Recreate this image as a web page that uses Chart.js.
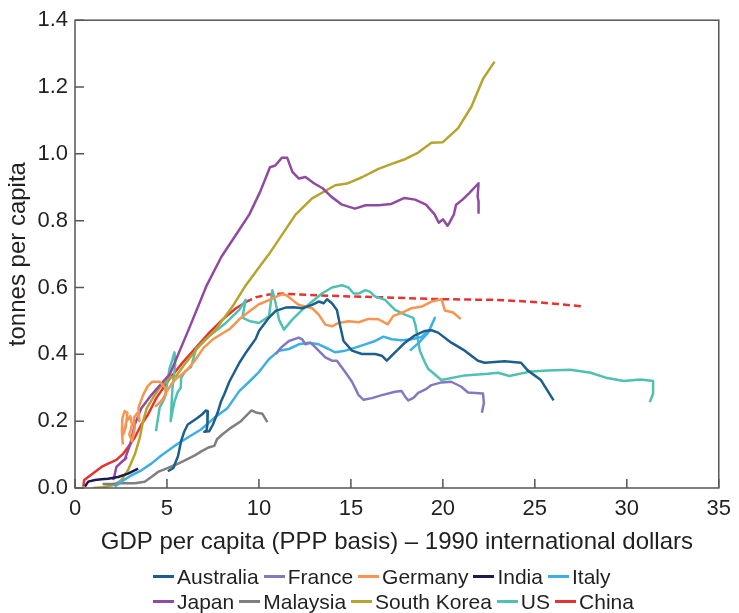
<!DOCTYPE html>
<html>
<head>
<meta charset="utf-8">
<script src="https://cdn.jsdelivr.net/npm/chart.js@4.4.0/dist/chart.umd.min.js"></script>
<style>
  html, body { margin: 0; padding: 0; background: #fff; }
  #wrap { position: relative; width: 739px; height: 613px; }
  #legend {
    position: absolute; left: 153px; top: 564px;
    font-family: 'Liberation Sans', Arial, sans-serif; font-size: 21px; color: #231f20;
  }
  .row { display: flex; align-items: center; height: 25px; white-space: nowrap; }
  .item { display: flex; align-items: center; margin-right: 5px; }
  .mark { display: inline-block; width: 21px; height: 3px; margin-right: 3px; }
</style>
</head>
<body>
<div id="wrap">
  <canvas id="chart" width="739" height="613"></canvas>
  <div id="legend"></div>
</div>
<script>
// Tick values
const xTicks = [0, 5, 10, 15, 20, 25, 30, 35];
const yTicks = [0, 0.2, 0.4, 0.6, 0.8, 1.0, 1.2, 1.4];

// Series: [GDP per capita (thousand 1990 $), tonnes per capita]
const australia = [[5.05,0.05],[5.35,0.06],[5.45,0.075],[5.6,0.095],[5.77,0.141],[5.95,0.17],[6.13,0.19],[6.4,0.2],[6.67,0.21],[6.9,0.22],[7.12,0.232],[7.22,0.23],[7.2,0.19],[7.15,0.172],[7.03,0.168],[7.3,0.17],[7.5,0.19],[7.75,0.225],[7.94,0.259],[8.11,0.28],[8.39,0.318],[8.93,0.374],[9.29,0.405],[9.83,0.447],[10.0,0.47],[10.55,0.51],[10.91,0.53],[11.45,0.54],[11.9,0.541],[12.35,0.538],[12.89,0.548],[13.25,0.558],[13.52,0.553],[13.7,0.565],[13.97,0.553],[14.24,0.533],[14.42,0.484],[14.6,0.44],[15.06,0.411],[15.6,0.401],[16.32,0.401],[16.68,0.396],[16.95,0.381],[17.4,0.406],[17.94,0.435],[18.48,0.457],[19.02,0.47],[19.38,0.472],[19.74,0.465],[20.46,0.435],[21.19,0.411],[21.91,0.381],[22.27,0.375],[23.36,0.379],[24.25,0.375],[24.61,0.352],[25.33,0.323],[26.02,0.262]];
const france = [[10.91,0.401],[11.2,0.42],[11.63,0.44],[12.17,0.45],[12.35,0.445],[12.53,0.43],[12.8,0.435],[13.07,0.421],[13.61,0.391],[13.97,0.381],[14.24,0.381],[14.69,0.347],[15.06,0.318],[15.42,0.278],[15.69,0.264],[16.14,0.269],[16.68,0.278],[17.4,0.288],[17.76,0.29],[17.94,0.274],[18.12,0.262],[18.4,0.27],[18.66,0.285],[19.11,0.297],[19.38,0.308],[19.92,0.316],[20.46,0.318],[21.0,0.303],[21.37,0.286],[22.18,0.283],[22.23,0.254],[22.12,0.225]];
const germany = [[2.6,0.13],[2.55,0.17],[2.58,0.21],[2.7,0.23],[2.85,0.225],[2.75,0.18],[2.62,0.16],[2.8,0.2],[3.0,0.215],[3.1,0.19],[2.95,0.16],[3.1,0.14],[3.25,0.18],[3.2,0.21],[3.4,0.225],[3.5,0.2],[3.45,0.24],[3.7,0.278],[3.95,0.305],[4.2,0.318],[4.6,0.318],[4.9,0.3],[4.95,0.28],[4.6,0.255],[4.4,0.245],[4.7,0.26],[5.0,0.29],[5.3,0.315],[5.5,0.327],[6.04,0.35],[6.5,0.38],[7.0,0.42],[7.5,0.445],[7.94,0.46],[8.39,0.475],[8.93,0.505],[9.47,0.528],[10.0,0.55],[10.55,0.562],[10.91,0.572],[11.27,0.58],[11.5,0.577],[11.81,0.563],[12.17,0.548],[12.53,0.543],[12.89,0.538],[13.25,0.519],[13.61,0.489],[13.97,0.484],[14.33,0.494],[14.87,0.499],[15.42,0.496],[15.96,0.506],[16.5,0.505],[16.86,0.494],[17.0,0.49],[17.31,0.515],[17.76,0.524],[18.3,0.538],[18.85,0.543],[19.38,0.558],[19.93,0.565],[20.11,0.531],[20.56,0.525],[20.97,0.506]];
const india = [[0.54,0.004],[0.72,0.019],[1.08,0.024],[1.44,0.026],[1.8,0.028],[2.34,0.033],[2.88,0.043],[3.43,0.058]];
const italy = [[2.16,0.004],[2.52,0.019],[3.07,0.038],[3.61,0.053],[4.15,0.073],[4.69,0.097],[5.41,0.126],[6.13,0.151],[6.85,0.175],[7.57,0.21],[8.29,0.239],[8.93,0.29],[9.47,0.318],[10.0,0.347],[10.55,0.386],[11.09,0.411],[11.63,0.416],[12.17,0.43],[12.71,0.435],[13.25,0.43],[13.79,0.416],[14.15,0.406],[14.69,0.411],[15.24,0.42],[15.78,0.43],[16.32,0.44],[16.77,0.453],[17.22,0.445],[17.76,0.442],[18.3,0.445],[18.84,0.452],[19.29,0.475],[19.56,0.509],[19.2,0.465],[18.7,0.435],[18.21,0.411]];
const japan = [[2.07,0.024],[2.13,0.033],[2.25,0.063],[2.52,0.077],[2.79,0.09],[2.7,0.085],[3.0,0.13],[3.25,0.19],[3.61,0.239],[4.15,0.278],[4.78,0.318],[5.15,0.34],[6.2,0.477],[7.14,0.604],[7.96,0.692],[8.78,0.76],[9.48,0.819],[10.07,0.887],[10.6,0.96],[10.89,0.965],[11.24,0.988],[11.54,0.988],[11.82,0.946],[12.17,0.926],[12.53,0.931],[12.99,0.912],[13.46,0.897],[13.93,0.872],[14.52,0.848],[15.22,0.836],[15.8,0.846],[16.5,0.846],[17.2,0.85],[17.91,0.868],[18.49,0.863],[19.08,0.848],[19.55,0.819],[19.78,0.794],[20.0,0.804],[20.25,0.785],[20.36,0.794],[20.6,0.819],[20.72,0.848],[21.07,0.863],[21.42,0.882],[21.94,0.912],[21.89,0.872],[21.94,0.858],[21.94,0.824]];
const malaysia = [[1.5,0.012],[2.0,0.012],[2.52,0.014],[3.25,0.014],[3.79,0.019],[4.15,0.033],[4.51,0.048],[4.96,0.058],[5.41,0.068],[5.95,0.082],[6.49,0.097],[6.94,0.112],[7.3,0.122],[7.57,0.126],[7.72,0.146],[8.02,0.161],[8.47,0.18],[9.02,0.2],[9.38,0.22],[9.6,0.232],[9.83,0.226],[10.19,0.222],[10.46,0.197]];
const southKorea = [[0.99,0.0],[1.53,0.002],[2.16,0.01],[2.52,0.024],[2.88,0.053],[3.25,0.1],[3.52,0.15],[3.7,0.2],[3.91,0.24],[4.24,0.27],[4.6,0.3],[5.14,0.33],[5.5,0.335],[6.04,0.376],[6.76,0.425],[7.66,0.475],[8.56,0.543],[9.29,0.607],[10.0,0.66],[10.55,0.7],[11.27,0.759],[11.99,0.818],[12.89,0.867],[14.15,0.906],[14.79,0.911],[15.6,0.93],[16.5,0.955],[17.22,0.97],[17.94,0.984],[18.66,1.004],[19.38,1.033],[20.0,1.035],[20.83,1.077],[21.55,1.141],[22.18,1.224],[22.81,1.276]];
const us = [[4.4,0.17],[4.6,0.24],[4.87,0.269],[5.0,0.31],[5.14,0.357],[5.3,0.385],[5.41,0.406],[5.45,0.37],[5.3,0.3],[5.2,0.2],[5.3,0.23],[5.41,0.259],[5.59,0.288],[5.75,0.3],[5.77,0.33],[6.0,0.35],[6.31,0.362],[6.58,0.416],[7.3,0.455],[8.2,0.494],[8.93,0.533],[9.28,0.563],[9.1,0.51],[9.47,0.5],[10.0,0.494],[10.55,0.514],[10.73,0.592],[10.91,0.553],[11.09,0.504],[11.36,0.474],[11.81,0.504],[12.35,0.533],[12.89,0.558],[13.43,0.582],[13.97,0.6],[14.51,0.607],[14.87,0.6],[15.15,0.582],[15.42,0.582],[15.78,0.592],[16.05,0.587],[16.32,0.573],[16.86,0.563],[17.4,0.533],[17.94,0.519],[18.39,0.509],[18.5,0.49],[18.66,0.44],[18.75,0.41],[19.02,0.376],[19.2,0.357],[19.92,0.323],[21.19,0.337],[22.45,0.342],[23.0,0.345],[23.62,0.335],[24.79,0.349],[25.69,0.352],[26.94,0.354],[28.04,0.345],[28.94,0.329],[29.84,0.32],[30.74,0.325],[31.43,0.32],[31.43,0.283],[31.25,0.257]];
const china = [[0.45,0.004],[0.5,0.024],[0.72,0.033],[1.08,0.048],[1.44,0.063],[1.8,0.073],[2.25,0.084],[2.61,0.102],[2.88,0.122],[3.25,0.151],[3.61,0.19],[3.97,0.22],[4.42,0.269],[5.14,0.327],[5.86,0.376],[6.58,0.42],[7.3,0.465],[8.02,0.504],[8.75,0.538],[9.28,0.556],[9.83,0.571],[10.55,0.579],[11.27,0.582],[12.17,0.579],[14.0,0.575],[16.5,0.571],[19.93,0.565],[22.81,0.563],[24.6,0.558],[26.24,0.551],[27.67,0.543]];
// China projection (dashed) starts after this GDP value
const chinaProjectionFrom = 9.28;

const countries = ['Australia', 'France', 'Germany', 'India', 'Italy', 'Japan', 'Malaysia', 'South Korea', 'US', 'China'];
const seriesList = [australia, france, germany, india, italy, japan, malaysia, southKorea, us, china];
const colors = ['#1c5f8d', '#8577c0', '#f79550', '#1d1a4e', '#3eafe6', '#8f4b9f', '#7f7f7f', '#b7a42d', '#50c0b2', '#e8322f'];
const legendRows = [[0, 1, 2, 3, 4], [5, 6, 7, 8, 9]];

const FONT = "'Liberation Sans', Arial, sans-serif";
const TEXT = '#231f20';

const datasets = countries.map((name, i) => {
    const ds = {
        label: name,
        data: seriesList[i].map(p => ({ x: p[0], y: p[1] })),
        borderColor: colors[i],
        backgroundColor: colors[i],
        borderWidth: 2.5,
        pointRadius: 0,
        pointHoverRadius: 0,
        showLine: true,
        tension: 0,
        borderJoinStyle: 'round'
    };
    if (name === 'China') {
        ds.segment = {
            borderDash: ctx => ctx.p0.parsed.x >= chinaProjectionFrom ? [7, 4] : undefined
        };
    }
    return ds;
});

// Frame round the plot and inward tick marks
const frameAndTicks = {
    id: 'frameAndTicks',
    afterDatasetsDraw(chart) {
        const { ctx, chartArea: a, scales } = chart;
        ctx.save();
        ctx.strokeStyle = '#555';
        ctx.lineWidth = 1.5;
        ctx.strokeRect(a.left, a.top, a.right - a.left, a.bottom - a.top);
        ctx.beginPath();
        xTicks.forEach(v => {
            const px = scales.x.getPixelForValue(v);
            ctx.moveTo(px, a.bottom);
            ctx.lineTo(px, a.bottom - 9);
        });
        yTicks.forEach(v => {
            const py = scales.y.getPixelForValue(v);
            ctx.moveTo(a.left, py);
            ctx.lineTo(a.left + 9, py);
        });
        ctx.stroke();
        ctx.restore();
    }
};

new Chart(document.getElementById('chart'), {
    type: 'scatter',
    data: { datasets },
    plugins: [frameAndTicks],
    options: {
        responsive: false,
        animation: false,
        layout: { padding: { left: 0, right: 17, top: 12, bottom: 50 } },
        scales: {
            x: {
                type: 'linear',
                min: 0,
                max: 35,
                afterBuildTicks: scale => { scale.ticks = xTicks.map(v => ({ value: v })); },
                afterFit: scale => { scale.height = 75; },
                grid: { display: false, drawTicks: false },
                border: { display: false },
                ticks: { padding: 8, color: TEXT, font: { family: FONT, size: 22 } },
                title: {
                    display: true,
                    text: 'GDP per capita (PPP basis) – 1990 international dollars',
                    color: TEXT,
                    font: { family: FONT, size: 24 },
                    padding: { top: 0, bottom: 6 }
                }
            },
            y: {
                type: 'linear',
                min: 0,
                max: 1.4,
                afterBuildTicks: scale => { scale.ticks = yTicks.map(v => ({ value: v })); },
                afterFit: scale => { scale.width = 75; },
                grid: { display: false, drawTicks: false },
                border: { display: false },
                ticks: {
                    padding: 7,
                    color: TEXT,
                    font: { family: FONT, size: 22 },
                    callback: v => Number(v).toFixed(1)
                },
                title: {
                    display: true,
                    text: 'tonnes per capita',
                    color: TEXT,
                    font: { family: FONT, size: 24 },
                    padding: { top: 4, bottom: 0 }
                }
            }
        },
        plugins: {
            legend: { display: false },
            tooltip: { enabled: false }
        }
    }
});

// Legend in two rows, as in the original figure
const legendEl = document.getElementById('legend');
legendRows.forEach(row => {
    const rowEl = document.createElement('div');
    rowEl.className = 'row';
    row.forEach(i => {
        const item = document.createElement('span');
        item.className = 'item';
        item.innerHTML = `<span class="mark" style="background:${colors[i]}"></span>${countries[i]}`;
        rowEl.appendChild(item);
    });
    legendEl.appendChild(rowEl);
});
</script>
</body>
</html>
